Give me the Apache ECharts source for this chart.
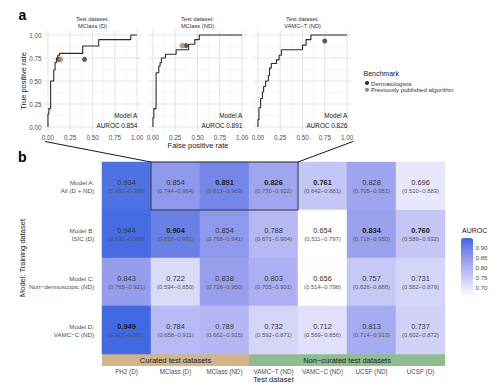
<!DOCTYPE html>
<html><head><meta charset="utf-8">
<script src="https://cdn.jsdelivr.net/npm/echarts@6/dist/echarts.min.js"></script>
<style>html,body{margin:0;padding:0;background:#fff}#c{width:500px;height:387px}</style>
</head><body><div id="c"></div>
<script>
// ---------- DATA ----------
const rocTicks = [0, 0.25, 0.5, 0.75, 1];
const rocMinor = [0.125, 0.375, 0.625, 0.875];
const panelTitles = ['MClass (D)', 'MClass (ND)', 'VAMC\u2212T (ND)'];
const panelAuroc = ['0.854', '0.891', '0.826'];
const roc1 = [[0,0],[0,0.14],[0.01,0.14],[0.01,0.2],[0.03,0.2],[0.03,0.5],[0.065,0.5],[0.065,0.62],[0.08,0.62],[0.08,0.7],[0.095,0.7],[0.095,0.75],[0.11,0.75],[0.11,0.78],[0.13,0.78],[0.13,0.8],[0.39,0.8],[0.39,0.88],[0.57,0.88],[0.57,0.95],[0.93,0.95],[0.93,1],[1,1]];
const roc2 = [[0,0],[0,0.1],[0.01,0.1],[0.01,0.2],[0.035,0.2],[0.035,0.59],[0.065,0.59],[0.065,0.66],[0.08,0.66],[0.08,0.7],[0.095,0.7],[0.095,0.75],[0.14,0.75],[0.14,0.79],[0.26,0.79],[0.26,0.84],[0.4,0.84],[0.4,0.9],[0.47,0.9],[0.47,0.95],[0.52,0.95],[0.52,1],[1,1]];
const roc3 = [[0,0],[0,0.08],[0.011,0.08],[0.011,0.21],[0.03,0.21],[0.03,0.31],[0.05,0.31],[0.05,0.38],[0.064,0.38],[0.064,0.44],[0.086,0.44],[0.086,0.5],[0.117,0.5],[0.117,0.56],[0.13,0.56],[0.13,0.64],[0.15,0.64],[0.15,0.69],[0.207,0.69],[0.207,0.73],[0.237,0.73],[0.237,0.78],[0.263,0.78],[0.263,0.84],[0.5,0.84],[0.5,0.89],[0.54,0.89],[0.54,0.95],[0.594,0.95],[0.594,1],[1,1]];
const derm1 = [[0.12,0.735],[0.41,0.735]];
const algo1 = [[0.14,0.735]];
const derm2 = [[0.37,0.885]];
const algo2 = [[0.33,0.885]];
const derm3 = [[0.75,0.935]];
const algo3 = [];

const testSets = ['PH2 (D)', 'MClass (D)', 'MClass (ND)', 'VAMC\u2212T (ND)', 'VAMC\u2212C (ND)', 'UCSF (ND)', 'UCSF (D)'];
const models = ['Model A:\nAll (D + ND)', 'Model B:\nISIC (D)', 'Model C:\nNon\u2212dermoscopic (ND)', 'Model D:\nVAMC\u2212C (ND)'];
const aurocA = [0.934, 0.854, 0.891, 0.826, 0.761, 0.828, 0.696];
const aurocB = [0.944, 0.904, 0.854, 0.788, 0.654, 0.834, 0.760];
const aurocC = [0.843, 0.722, 0.838, 0.803, 0.656, 0.757, 0.731];
const aurocD = [0.949, 0.784, 0.789, 0.732, 0.712, 0.813, 0.737];
const ciLowA = [0.880, 0.744, 0.813, 0.730, 0.642, 0.705, 0.510];
const ciHighA = [0.988, 0.964, 0.969, 0.922, 0.881, 0.951, 0.883];
const ciLowB = [0.899, 0.818, 0.768, 0.671, 0.511, 0.718, 0.589];
const ciHighB = [0.989, 0.991, 0.941, 0.904, 0.797, 0.950, 0.932];
const ciLowC = [0.765, 0.594, 0.726, 0.705, 0.514, 0.626, 0.582];
const ciHighC = [0.921, 0.850, 0.950, 0.901, 0.798, 0.888, 0.879];
const ciLowD = [0.917, 0.658, 0.662, 0.592, 0.569, 0.714, 0.602];
const ciHighD = [0.981, 0.911, 0.915, 0.871, 0.856, 0.913, 0.872];
const groupNames = ['Curated test datasets', 'Non\u2212curated test datasets'];
const groupSizes = [3, 4];
const legendTicks = [0.70, 0.75, 0.80, 0.85, 0.90];
const benchNames = ['Dermatologists', 'Previously published algorithm'];

// ---------- LAYOUT / STYLE ----------
const FONT = 'Liberation Sans, Arial, sans-serif';
const P_LEFT0 = 43.5, P_STEP = 105, P_TOP = 30.4, P_W = 98, P_H = 101.2;
const AX_MIN = -0.05, AX_MAX = 1.05;
const HM = {left: 102, top: 162, width: 343, height: 192};
const CB = {left: 461, top: 238, width: 12, height: 59};
const DERM_COLOR = '#333333', ALGO_COLOR = '#b8865c';
const GRID_MAJOR = '#dedede', GRID_MINOR = '#ececec';

const rocs = [roc1, roc2, roc3];
const derms = [derm1, derm2, derm3];
const algos = [algo1, algo2, algo3];
const aurocRows = [aurocA, aurocB, aurocC, aurocD];
const ciLows = [ciLowA, ciLowB, ciLowC, ciLowD];
const ciHighs = [ciHighA, ciHighB, ciHighC, ciHighD];

const allVals = aurocRows.flat();
const vMin = Math.min(...allVals), vMax = Math.max(...allVals);
const colMax = testSets.map((_, c) => Math.max(...aurocRows.map(r => r[c])));

const hmData = [];
aurocRows.forEach((row, r) => row.forEach((v, c) => {
  hmData.push({value: [c, r, v], lo: ciLows[r][c], hi: ciHighs[r][c], bold: v === colMax[c]});
}));

const grids = [], xAxes = [], yAxes = [], series = [], graphics = [];

// heatmap first (series 0)
grids.push({left: HM.left, top: HM.top, width: HM.width, height: HM.height});
xAxes.push({gridIndex: 0, type: 'category', data: testSets, position: 'bottom',
  axisLine: {show: false}, axisTick: {show: false}, splitLine: {show: false},
  axisLabel: {interval: 0, fontSize: 6.3, color: '#4d4d4d', margin: 14, fontFamily: FONT}});
yAxes.push({gridIndex: 0, type: 'category', data: models, inverse: true,
  axisLine: {show: false}, axisTick: {show: false}, splitLine: {show: false},
  axisLabel: {fontSize: 6.2, lineHeight: 8, color: '#4d4d4d', margin: 8, align: 'right', fontFamily: FONT}});
series.push({type: 'heatmap', xAxisIndex: 0, yAxisIndex: 0, data: hmData,
  emphasis: {disabled: true}, itemStyle: {borderWidth: 0},
  label: {show: true, fontFamily: FONT,
    formatter: p => '{' + (p.data.bold ? 'vb' : 'v') + '|' + p.data.value[2].toFixed(3) + '}\n{c|(' + p.data.lo.toFixed(3) + '\u2212' + p.data.hi.toFixed(3) + ')}',
    rich: {
      v: {fontSize: 7.4, color: '#333', lineHeight: 10, fontFamily: FONT},
      vb: {fontSize: 7.4, color: '#1a1a1a', fontWeight: 'bold', lineHeight: 10, fontFamily: FONT},
      c: {fontSize: 5.9, color: '#555', lineHeight: 8, fontFamily: FONT}
    }}});

// ROC panels
for (let i = 0; i < 3; i++) {
  const gi = i + 1;
  const left = P_LEFT0 + P_STEP * i;
  grids.push({left: left, top: P_TOP, width: P_W, height: P_H});
  const axisCommon = {gridIndex: gi, type: 'value', min: AX_MIN, max: AX_MAX,
    axisLine: {show: false}, axisTick: {show: false}, splitLine: {show: false}};
  xAxes.push(Object.assign({}, axisCommon, {axisLabel: {customValues: rocTicks, formatter: v => v.toFixed(2),
    fontSize: 6.3, color: '#4d4d4d', margin: 2.5, fontFamily: FONT}}));
  yAxes.push(Object.assign({}, axisCommon, {axisLabel: {show: i === 0, customValues: rocTicks, formatter: v => v.toFixed(2),
    fontSize: 6.3, color: '#4d4d4d', margin: 2, fontFamily: FONT}}));
  series.push({type: 'line', xAxisIndex: gi, yAxisIndex: gi, data: rocs[i], showSymbol: false, z: 10,
    lineStyle: {color: '#2b2b2b', width: 1.1}, silent: true, clip: false});
  series.push({type: 'scatter', name: benchNames[0], xAxisIndex: gi, yAxisIndex: gi, data: derms[i], z: 11,
    symbolSize: 5, itemStyle: {color: DERM_COLOR}, silent: true});
  series.push({type: 'scatter', name: benchNames[1], xAxisIndex: gi, yAxisIndex: gi, data: algos[i], z: 12,
    symbolSize: 5, itemStyle: {color: ALGO_COLOR, borderColor: '#7a5a3e', borderWidth: 0.4}, silent: true});
  const cx = left + P_W / 2;
  graphics.push({type: 'text', x: cx, y: 19, style: {text: 'Test dataset:', fill: '#333', fontSize: 5.8, fontFamily: FONT, align: 'center', verticalAlign: 'middle'}});
  graphics.push({type: 'text', x: cx, y: 25.5, style: {text: panelTitles[i], fill: '#333', fontSize: 5.8, fontFamily: FONT, align: 'center', verticalAlign: 'middle'}});
  const rx = left + P_W - 4.2;
  graphics.push({type: 'text', x: rx, y: 115.5, style: {text: 'Model A', fill: '#1a1a1a', fontSize: 6.4, fontFamily: FONT, align: 'right', verticalAlign: 'middle'}});
  graphics.push({type: 'text', x: rx, y: 125, style: {text: 'AUROC ' + panelAuroc[i], fill: '#1a1a1a', fontSize: 6.4, fontFamily: FONT, align: 'right', verticalAlign: 'middle'}});
}

// colour bar axis
grids.push({left: CB.left, top: CB.top, width: CB.width, height: CB.height});
xAxes.push({gridIndex: 4, type: 'value', show: false, min: 0, max: 1});
yAxes.push({gridIndex: 4, type: 'value', min: vMin, max: vMax, position: 'right',
  axisLine: {show: false}, splitLine: {show: false},
  axisTick: {show: true, inside: true, length: 2.5, customValues: legendTicks, lineStyle: {color: '#ffffff', width: 0.8}},
  axisLabel: {customValues: legendTicks, formatter: v => v.toFixed(2), fontSize: 6.2, color: '#4d4d4d', margin: 2.5, fontFamily: FONT}});
series.push({type: 'scatter', xAxisIndex: 4, yAxisIndex: 4, data: [], silent: true});

// panel letters & axis titles
graphics.push({type: 'text', x: 18.5, y: 15, style: {text: 'a', fill: '#000', fontSize: 14, fontWeight: 'bold', fontFamily: FONT, align: 'left', verticalAlign: 'middle'}});
graphics.push({type: 'text', x: 18, y: 157, style: {text: 'b', fill: '#000', fontSize: 14, fontWeight: 'bold', fontFamily: FONT, align: 'left', verticalAlign: 'middle'}});
graphics.push({type: 'text', x: 23, y: 81, rotation: Math.PI / 2, style: {text: 'True positive rate', fill: '#1a1a1a', fontSize: 7.5, fontFamily: FONT, align: 'center', verticalAlign: 'middle'}});
graphics.push({type: 'text', x: 198, y: 145.5, style: {text: 'False positive rate', fill: '#1a1a1a', fontSize: 7.5, fontFamily: FONT, align: 'center', verticalAlign: 'middle'}});
graphics.push({type: 'text', x: 22, y: 258, rotation: Math.PI / 2, style: {text: 'Model: Training dataset', fill: '#1a1a1a', fontSize: 7.5, fontFamily: FONT, align: 'center', verticalAlign: 'middle'}});
graphics.push({type: 'text', x: HM.left + HM.width / 2, y: 379.5, style: {text: 'Test dataset', fill: '#1a1a1a', fontSize: 7.5, fontFamily: FONT, align: 'center', verticalAlign: 'middle'}});

// benchmark legend
graphics.push({type: 'text', x: 363.5, y: 73, style: {text: 'Benchmark', fill: '#1a1a1a', fontSize: 7, fontFamily: FONT, align: 'left', verticalAlign: 'middle'}});
[DERM_COLOR, ALGO_COLOR].forEach((col, k) => {
  const yy = 83 + k * 6.8;
  graphics.push({type: 'circle', shape: {cx: 367, cy: yy, r: 2.1}, style: {fill: col}});
  graphics.push({type: 'text', x: 371, y: yy, style: {text: benchNames[k], fill: '#333', fontSize: 6.1, fontFamily: FONT, align: 'left', verticalAlign: 'middle'}});
});

// colour bar title
graphics.push({type: 'text', x: 462, y: 230.5, style: {text: 'AUROC', fill: '#1a1a1a', fontSize: 7, fontFamily: FONT, align: 'left', verticalAlign: 'middle'}});

// group strips under heatmap
const colW = HM.width / testSets.length;
let startCol = 0;
const stripColors = ['#d2b48c', '#8fbc8f'];
groupSizes.forEach((n, k) => {
  const x0 = HM.left + startCol * colW;
  graphics.push({type: 'rect', shape: {x: x0, y: HM.top + HM.height, width: n * colW, height: 12}, style: {fill: stripColors[k]}});
  graphics.push({type: 'text', x: x0 + n * colW / 2, y: HM.top + HM.height + 6.3, style: {text: groupNames[k], fill: '#1a1a1a', fontSize: 7.5, fontFamily: FONT, align: 'center', verticalAlign: 'middle'}});
  startCol += n;
});

// zoom box and connectors
const rowH = HM.height / models.length;
const bx0 = HM.left + colW * 1, bx1 = HM.left + colW * 4;
graphics.push({type: 'rect', z: 100, shape: {x: bx0, y: HM.top, width: bx1 - bx0, height: rowH}, style: {fill: 'none', stroke: '#333', lineWidth: 1}});
graphics.push({type: 'line', z: 100, shape: {x1: 45, y1: 141.5, x2: bx0, y2: HM.top}, style: {stroke: '#1a1a1a', lineWidth: 1}});
graphics.push({type: 'line', z: 100, shape: {x1: 353, y1: 141.5, x2: bx1, y2: HM.top}, style: {stroke: '#1a1a1a', lineWidth: 1}});

const chart = echarts.init(document.getElementById('c'), null, {renderer: 'svg'});
const baseOption = {
  animation: false,
  backgroundColor: '#ffffff',
  textStyle: {fontFamily: FONT},
  grid: grids, xAxis: xAxes, yAxis: yAxes,
  visualMap: {type: 'continuous', min: vMin, max: vMax, seriesIndex: 0, dimension: 2,
    left: CB.left, top: CB.top, itemWidth: CB.width, itemHeight: CB.height, padding: 0,
    calculable: false, orient: 'vertical', hoverLink: false,
    inRange: {color: ['#ffffff', '#d7d7f9', '#adb1f2', '#828eea', '#4169e1']}},
  series: series
};
chart.setOption(baseOption);

// panel grid lines placed through the panels' own axis scales
for (let i = 0; i < 3; i++) {
  const gi = i + 1;
  const px = v => chart.convertToPixel({xAxisIndex: gi}, v);
  const py = v => chart.convertToPixel({yAxisIndex: gi}, v);
  const xa = px(AX_MIN), xb = px(AX_MAX), ya = py(AX_MIN), yb = py(AX_MAX);
  const add = (vals, color, w) => vals.forEach(v => {
    const x = px(v), y = py(v);
    graphics.unshift({type: 'line', z: 0, silent: true, shape: {x1: x, y1: ya, x2: x, y2: yb}, style: {stroke: color, lineWidth: w}});
    graphics.unshift({type: 'line', z: 0, silent: true, shape: {x1: xa, y1: y, x2: xb, y2: y}, style: {stroke: color, lineWidth: w}});
  });
  add(rocTicks, GRID_MAJOR, 0.8);
  add(rocMinor, GRID_MINOR, 0.5);
}
chart.setOption({graphic: graphics});
</script></body></html>
